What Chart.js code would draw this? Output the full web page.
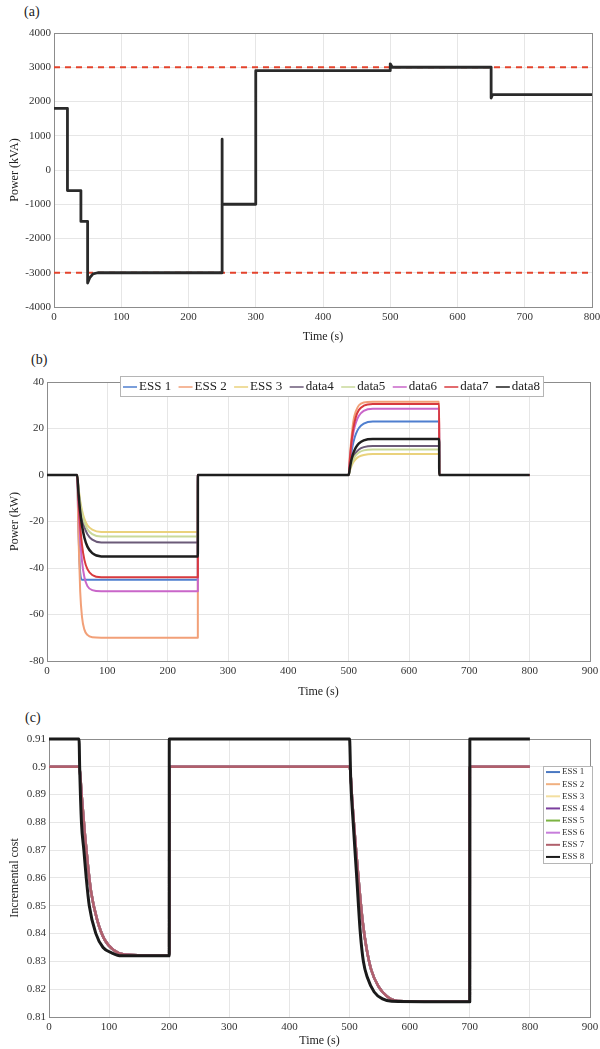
<!DOCTYPE html>
<html>
<head>
<meta charset="utf-8">
<script src="https://cdn.jsdelivr.net/npm/chart.js@4.4.1/dist/chart.umd.min.js"></script>
<style>
  body { margin: 0; background: #fff; width: 600px; height: 1049px; overflow: hidden; position: relative; font-family: 'Liberation Serif', serif; }
  canvas { position: absolute; left: 0; }
  .tag { position: absolute; font-size: 14px; color: #222; }
</style>
</head>
<body>
<div class="tag" style="left:24px;top:4px">(a)</div>
<div class="tag" style="left:31px;top:352px">(b)</div>
<div class="tag" style="left:25px;top:710px">(c)</div>
<canvas id="cA" width="600" height="345" style="top:0"></canvas>
<canvas id="cB" width="600" height="355" style="top:345px"></canvas>
<canvas id="cC" width="600" height="349" style="top:700px"></canvas>
<script>
// ---- (a) grid power, step profile ----
const tA     = [0, 20, 20, 40, 40, 50, 50, 53, 58, 65, 250, 250, 250, 300, 300, 500, 500, 503, 650, 650, 652, 800];
const powerA = [1800, 1800, -600, -600, -1500, -1500, -3300, -3150, -3030, -3000, -3000, 900, -1000, -1000, 2900, 2900, 3100, 3000, 3000, 2100, 2200, 2200];
const limitA = [3000, -3000];

// ---- (b) ESS output power ----
const tB = [0, 50, 52, 55, 58, 62, 67, 75, 90, 250, 250.1, 500, 502, 505, 508, 512, 517, 525, 540, 650, 650.1, 800];
const labelsB = ['ESS 1', 'ESS 2', 'ESS 3', 'data4', 'data5', 'data6', 'data7', 'data8'];
const colorsB = ['#4f7fcf', '#f2a078', '#ead27c', '#6b5a78', '#c9d99a', '#c966c9', '#d83a3e', '#1e1e1e'];
const ess1B  = [0, 0, -22, -42, -45, -45, -45, -45, -45, -45, 0, 0, 4.6, 10.4, 14.3, 17.7, 20.2, 22.1, 23, 23, 0, 0];
const ess2B  = [0, 0, -25, -50, -61, -66.5, -68.8, -69.8, -70, -70, 0, 0, 8, 17, 23.5, 27.5, 30, 31.2, 31.5, 31.5, 0, 0];
const ess3B  = [0, 0, -4.9, -11, -15.2, -18.9, -21.6, -23.5, -24.5, -24.5, 0, 0, 1.8, 4, 5.6, 6.9, 7.9, 8.6, 9, 9, 0, 0];
const data4B = [0, 0, -5.8, -13, -18, -22.3, -25.5, -27.8, -29, -29, 0, 0, 2.5, 5.6, 7.8, 9.6, 11, 12, 12.5, 12.5, 0, 0];
const data5B = [0, 0, -5.3, -11.9, -16.4, -20.4, -23.3, -25.4, -26.5, -26.5, 0, 0, 2.2, 5, 6.8, 8.5, 9.7, 10.6, 11, 11, 0, 0];
const data6B = [0, 0, -12, -27, -37, -44, -47.8, -49.5, -50, -50, 0, 0, 6, 13.5, 18.5, 22.5, 25.5, 27.6, 28.5, 28.5, 0, 0];
const data7B = [0, 0, -10, -22, -30, -36.5, -40.5, -43, -44, -44, 0, 0, 7, 15, 20.5, 25, 28, 29.8, 30.5, 30.5, 0, 0];
const data8B = [0, 0, -7, -15.8, -21.7, -27, -30.8, -33.6, -35, -35, 0, 0, 3.1, 7, 9.6, 11.9, 13.6, 14.9, 15.5, 15.5, 0, 0];
const seriesB = [ess1B, ess2B, ess3B, data4B, data5B, data6B, data7B, data8B];

// ---- (c) incremental cost ----
const labelsC = ['ESS 1', 'ESS 2', 'ESS 3', 'ESS 4', 'ESS 5', 'ESS 6', 'ESS 7', 'ESS 8'];
const colorsC = ['#4a78c2', '#f0b080', '#f3dfa0', '#7b3f9e', '#7cb342', '#c77ddb', '#b0606c', '#1a1a1a'];
const tCostOther = [0, 50, 55, 60, 65, 70, 80, 92, 108, 125, 200, 200.1, 500, 505, 510, 516, 522, 528, 536, 548, 562, 580, 700, 700.1, 800];
const costOther  = [0.9, 0.9, 0.888, 0.875, 0.864, 0.855, 0.845, 0.838, 0.834, 0.8325, 0.832, 0.9, 0.9, 0.886, 0.872, 0.857, 0.844, 0.835, 0.827, 0.821, 0.8175, 0.8158, 0.8155, 0.9, 0.9];
const tCostEss8  = [0, 50, 51, 54, 58, 62, 67, 78, 90, 105, 120, 200, 200.1, 500, 502, 506, 512, 518, 523, 530, 541, 555, 570, 700, 700.1, 800];
const costEss8   = [0.91, 0.91, 0.9, 0.88, 0.87, 0.86, 0.85, 0.84, 0.835, 0.833, 0.832, 0.832, 0.91, 0.91, 0.895, 0.88, 0.86, 0.84, 0.83, 0.824, 0.819, 0.8165, 0.8157, 0.8155, 0.91, 0.91];

const tickFont  = { family: 'Liberation Serif', size: 11 };
const titleFont = { family: 'Liberation Serif', size: 12 };

function pts(ts, ys) {
  return ts.map((t, i) => ({ x: t, y: ys[i] }));
}

// axis box + grid in MATLAB style; widths/heights pin the plot area
function axes(xMax, yMin, yMax, yStep, yTitle, yWidth, xHeight, yFmt) {
  return {
    x: {
      type: 'linear', min: 0, max: xMax,
      ticks: { stepSize: 100, padding: 4, color: '#333', font: tickFont, maxRotation: 0, autoSkip: false },
      grid: { color: '#e6e6e6', drawTicks: false },
      border: { color: '#8c8c8c' },
      title: { display: true, text: 'Time (s)', color: '#222', font: titleFont, padding: { top: 0, bottom: 1 } },
      afterFit: s => { s.height = xHeight; s.paddingLeft = 0; s.paddingRight = 0; },
    },
    y: {
      min: yMin, max: yMax,
      ticks: { stepSize: yStep, padding: 3, color: '#333', font: tickFont, callback: yFmt || (v => v) },
      grid: { color: '#e6e6e6', drawTicks: false },
      border: { color: '#8c8c8c' },
      title: { display: true, text: yTitle, color: '#222', font: titleFont, padding: { top: 8, bottom: 0 } },
      afterFit: s => { s.width = yWidth; s.paddingTop = 0; s.paddingBottom = 0; },
    },
  };
}

const boxPlugin = {
  id: 'box',
  beforeDatasetsDraw(chart) {
    const a = chart.chartArea, ctx = chart.ctx;
    ctx.save();
    ctx.strokeStyle = '#8c8c8c';
    ctx.lineWidth = 1;
    ctx.strokeRect(a.left + 0.5, a.top + 0.5, a.right - a.left, a.bottom - a.top);
    ctx.restore();
  },
};

// legend drawn over the plot, like the MATLAB one
function boxLegend(o) {
  return {
    id: 'boxLegend',
    afterDraw(chart) {
      const ctx = chart.ctx, a = chart.chartArea;
      const sets = chart.data.datasets.filter(d => d.label);
      ctx.save();
      ctx.font = o.font;
      ctx.textBaseline = 'middle';
      const x0 = o.right != null ? a.right + o.right - o.width : a.left + o.dx;
      const y0 = a.top + o.dy;
      ctx.fillStyle = '#fff';
      ctx.fillRect(x0, y0, o.width, o.height);
      ctx.strokeStyle = '#b5b5b5';
      ctx.lineWidth = 1;
      ctx.strokeRect(x0 + 0.5, y0 + 0.5, o.width, o.height);
      if (o.horizontal) {
        const w = sets.map(d => o.line + 2 + ctx.measureText(d.label).width);
        const gap = (o.width - 6 - w.reduce((s, v) => s + v, 0)) / (sets.length - 1);
        let x = x0 + 3;
        const y = y0 + o.height / 2 + 1;
        sets.forEach((d, i) => {
          ctx.strokeStyle = d.borderColor; ctx.lineWidth = 1.5;
          ctx.beginPath(); ctx.moveTo(x, y); ctx.lineTo(x + o.line, y); ctx.stroke();
          ctx.fillStyle = '#222';
          ctx.fillText(d.label, x + o.line + 2, y);
          x += w[i] + gap;
        });
      } else {
        const rowH = o.height / sets.length;
        sets.forEach((d, i) => {
          const y = y0 + rowH * (i + 0.5);
          ctx.strokeStyle = d.borderColor; ctx.lineWidth = 2;
          ctx.beginPath(); ctx.moveTo(x0 + 3, y); ctx.lineTo(x0 + 3 + o.line, y); ctx.stroke();
          ctx.fillStyle = '#333';
          ctx.fillText(d.label, x0 + 5 + o.line, y);
        });
      }
      ctx.restore();
    },
  };
}

const common = { responsive: false, animation: false, events: [] };

// (a)
new Chart(document.getElementById('cA'), {
  type: 'line',
  data: {
    datasets: [
      { data: pts(tA, powerA), borderColor: '#2a2a2a', borderWidth: 2.8, borderJoinStyle: 'round', pointRadius: 0, clip: 5 },
      { data: pts([0, 800], [limitA[0], limitA[0]]), borderColor: '#e4432c', borderWidth: 2, borderDash: [6, 5], pointRadius: 0, clip: 5 },
      { data: pts([0, 800], [limitA[1], limitA[1]]), borderColor: '#e4432c', borderWidth: 2, borderDash: [6, 5], pointRadius: 0, clip: 5 },
    ],
  },
  options: {
    ...common,
    layout: { padding: { top: 33, right: 8, left: 0, bottom: 0 } },
    plugins: { legend: { display: false }, tooltip: { enabled: false } },
    scales: axes(800, -4000, 4000, 1000, 'Power (kVA)', 54, 38),
  },
  plugins: [boxPlugin],
});

// (b)
new Chart(document.getElementById('cB'), {
  type: 'line',
  data: {
    datasets: seriesB.map((ys, i) => ({
      label: labelsB[i], data: pts(tB, ys), borderColor: colorsB[i], borderWidth: i === 7 ? 2.5 : 2,
      borderJoinStyle: 'round', pointRadius: 0, cubicInterpolationMode: 'monotone', order: 8 - i, clip: 5,
    })),
  },
  options: {
    ...common,
    layout: { padding: { top: 37, right: 10, left: 0, bottom: 0 } },
    plugins: { legend: { display: false }, tooltip: { enabled: false } },
    scales: axes(900, -80, 40, 20, 'Power (kW)', 47, 39),
  },
  plugins: [boxPlugin, boxLegend({ horizontal: true, dx: 73, dy: -6, width: 423, height: 20, line: 14, font: '13px "Liberation Serif"' })],
});

// (c)
new Chart(document.getElementById('cC'), {
  type: 'line',
  data: {
    datasets: labelsC.map((lab, i) => ({
      label: lab,
      data: i === 7 ? pts(tCostEss8, costEss8) : pts(tCostOther, costOther),
      borderColor: colorsC[i], borderWidth: i === 7 ? 3 : 2.5,
      borderJoinStyle: 'round', pointRadius: 0, cubicInterpolationMode: 'monotone', order: 8 - i, clip: 5,
    })),
  },
  options: {
    ...common,
    layout: { padding: { top: 39, right: 10, left: 0, bottom: 0 } },
    plugins: { legend: { display: false }, tooltip: { enabled: false } },
    scales: axes(900, 0.81, 0.91, 0.01, 'Incremental cost', 49, 32, v => +v.toFixed(2)),
  },
  plugins: [boxPlugin, boxLegend({ right: 2, dy: 27, width: 49, height: 97, line: 14, font: '9px "Liberation Serif"' })],
});
</script>
</body>
</html>
